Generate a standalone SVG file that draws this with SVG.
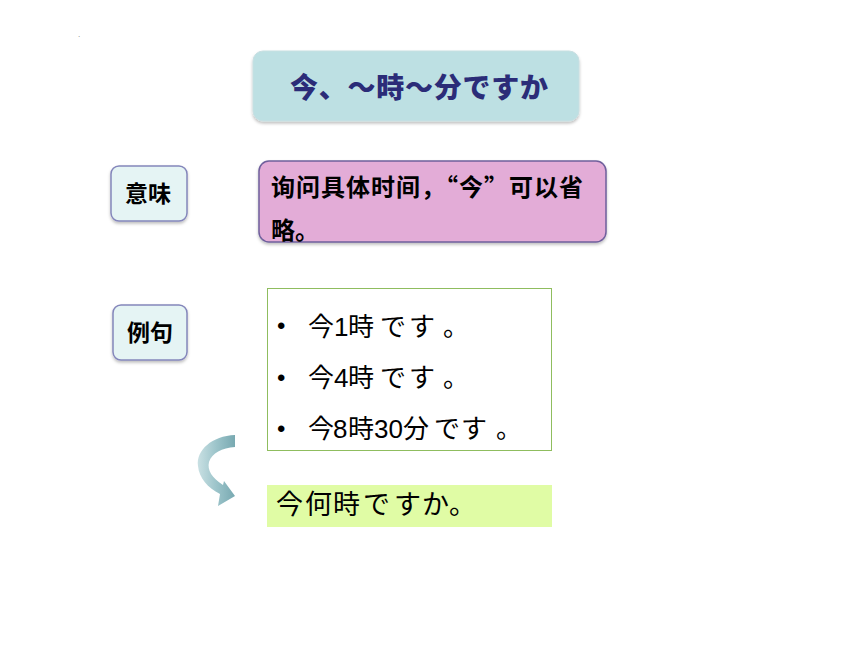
<svg xmlns="http://www.w3.org/2000/svg" width="860" height="645" viewBox="0 0 860 645">
<style>
.cjk{font-family:"Noto Sans CJK SC","Noto Sans CJK JP",sans-serif;}
.jp{font-family:"Liberation Sans","Noto Sans CJK JP",sans-serif;}
.b{font-weight:bold;}
</style>
<defs>
<filter id="sh" x="-10%" y="-10%" width="120%" height="130%">
<feDropShadow dx="0" dy="2" stdDeviation="1.5" flood-color="#000" flood-opacity="0.25"/>
</filter>
<linearGradient id="ag" x1="0" y1="0" x2="1" y2="0">
<stop offset="0" stop-color="#c9e0e3"/>
<stop offset="0.5" stop-color="#9cc4ca"/>
<stop offset="1" stop-color="#78a9b1"/>
</linearGradient>
</defs>
<rect width="860" height="645" fill="#fff"/>
<text x="78" y="37" font-family="Liberation Sans,sans-serif" font-size="8" fill="#777">.</text>

<g id="title">
<rect x="253" y="51" width="326" height="70" rx="10" fill="#bde0e3" stroke="#c8dfe2" filter="url(#sh)"/>
<text x="419" y="98" text-anchor="middle" class="cjk" font-weight="900" font-size="28" fill="#2b2c78" textLength="258">今、〜時〜分ですか</text>
</g>

<g id="imi">
<rect x="111" y="166" width="76" height="55" rx="8" fill="#e5f4f4" stroke="#8486bb" stroke-width="1.5" filter="url(#sh)"/>
<text x="148" y="202" text-anchor="middle" class="cjk b" font-size="23" fill="#000">意味</text>
</g>

<g id="meaning">
<rect x="259" y="161" width="347" height="81" rx="10" fill="#e3acd7" stroke="#6f5f9c" stroke-width="1.5" filter="url(#sh)"/>
<text x="271" y="196" class="cjk b" font-size="24" fill="#000" textLength="312" lengthAdjust="spacing">询问具体时间，“今”可以省</text>
<text x="271" y="239" class="cjk b" font-size="24" fill="#000">略。</text>
</g>

<g id="reiku">
<rect x="113" y="305" width="74" height="55" rx="8" fill="#e5f4f4" stroke="#8486bb" stroke-width="1.5" filter="url(#sh)"/>
<text x="150" y="341" text-anchor="middle" class="cjk b" font-size="23" fill="#000">例句</text>
</g>

<g id="examples">
<rect x="267.5" y="288.5" width="284" height="162" fill="#fff" stroke="#8fbd5e" stroke-width="1"/>
<g class="jp" font-size="26" fill="#000">
<text x="277" y="334" font-size="24">•</text>
<text y="336"><tspan x="308">今</tspan><tspan x="334">1</tspan><tspan x="348">時</tspan><tspan x="380">で</tspan><tspan x="409">す</tspan><tspan x="443">。</tspan></text>
<text x="277" y="386" font-size="24">•</text>
<text y="387"><tspan x="308">今</tspan><tspan x="334">4</tspan><tspan x="348">時</tspan><tspan x="380">で</tspan><tspan x="409">す</tspan><tspan x="443">。</tspan></text>
<text x="277" y="437" font-size="24">•</text>
<text y="438"><tspan x="308">今</tspan><tspan x="333">8</tspan><tspan x="348">時</tspan><tspan x="374">30</tspan><tspan x="403">分</tspan><tspan x="434">で</tspan><tspan x="461">す</tspan><tspan x="496">。</tspan></text>
</g>
</g>

<g id="connectors">
<path d="M 235 435 C 212 436, 196 450, 198 466 C 199 478, 208 488, 220 494 L 218 506 L 235 496 L 224 481 L 223 485 C 212 478, 207 470, 209 462 C 212 453, 222 448, 235 447 Z" fill="url(#ag)"/>
</g>

<g id="question">
<rect x="267" y="485" width="285" height="42" fill="#e0fca5"/>
<text y="514" class="jp" font-size="27" fill="#000"><tspan x="276">今</tspan><tspan x="305">何</tspan><tspan x="333">時</tspan><tspan x="363">で</tspan><tspan x="394">す</tspan><tspan x="422">か</tspan><tspan x="449">。</tspan></text>
</g>
</svg>
